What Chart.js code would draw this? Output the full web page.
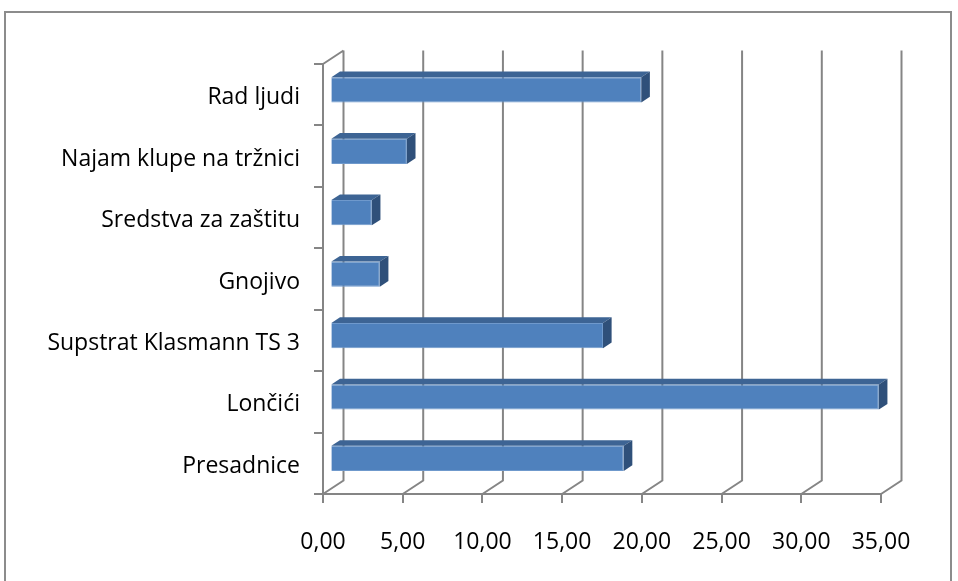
<!DOCTYPE html>
<html>
<head>
<meta charset="utf-8">
<script src="https://cdn.jsdelivr.net/npm/chart.js@4.4.1/dist/chart.umd.min.js"></script>
<style>
  html, body { margin: 0; padding: 0; background: #fff; }
  #wrap { width: 958px; height: 581px; position: relative; }
</style>
</head>
<body>
<div id="wrap"><canvas id="costChart"></canvas></div>
<script>
var categories = ['Rad ljudi', 'Najam klupe na tržnici', 'Sredstva za zaštitu', 'Gnojivo', 'Supstrat Klasmann TS 3', 'Lončići', 'Presadnice'];
var costs = [19.5, 4.8, 2.6, 3.1, 17.1, 34.4, 18.4];
var axisMin = 0, axisMax = 35, axisStep = 5;

// fake 3d: back wall offset and where the bars sit in the depth
var depthX = 20.5, depthY = -13.5;
var barShift = 0.36, barDepth = 0.42;
var lineColor = '#858585';

var frame3d = {
    id: 'frame3d',
    beforeDraw: function(chart) {
        var ctx = chart.ctx;
        ctx.save();
        ctx.strokeStyle = '#8c8c8c';
        ctx.lineWidth = 2;
        ctx.strokeRect(5, 12, 946, 600);
        ctx.restore();
    },
    beforeDatasetsDraw: function(chart) {
        var ctx = chart.ctx, area = chart.chartArea, xs = chart.scales.x;
        ctx.save();
        ctx.strokeStyle = lineColor;
        ctx.lineWidth = 2;
        ctx.beginPath();
        xs.ticks.forEach(function(t) {
            var xf = xs.getPixelForValue(t.value);
            ctx.moveTo(xf, area.bottom);
            ctx.lineTo(xf + depthX, area.bottom + depthY);
            ctx.lineTo(xf + depthX, area.top + depthY);
        });
        ctx.moveTo(area.left, area.top);
        ctx.lineTo(area.left + depthX, area.top + depthY);
        ctx.stroke();
        ctx.restore();

        ctx.save();
        ctx.translate(depthX * barShift, depthY * barShift);
    },
    afterDatasetsDraw: function(chart) {
        var ctx = chart.ctx;
        var dx = depthX * barDepth, dy = depthY * barDepth;
        chart.getDatasetMeta(0).data.forEach(function(el) {
            var top = el.y - el.height / 2, bottom = el.y + el.height / 2;
            ctx.fillStyle = '#3d6494';
            ctx.beginPath();
            ctx.moveTo(el.base, top);
            ctx.lineTo(el.x, top);
            ctx.lineTo(el.x + dx, top + dy);
            ctx.lineTo(el.base + dx, top + dy);
            ctx.closePath();
            ctx.fill();
            ctx.fillStyle = '#2f507a';
            ctx.beginPath();
            ctx.moveTo(el.x, top);
            ctx.lineTo(el.x + dx, top + dy);
            ctx.lineTo(el.x + dx, bottom + dy);
            ctx.lineTo(el.x, bottom);
            ctx.closePath();
            ctx.fill();
        });
        ctx.restore();
    }
};

var ctx = document.getElementById('costChart').getContext('2d');
var costChart = new Chart(ctx, {
    type: 'bar',
    data: {
        labels: categories,
        datasets: [{
            data: costs,
            backgroundColor: '#4f81bd',
            borderColor: '#6f99cc',
            borderWidth: 1,
            barPercentage: 0.41,
            categoryPercentage: 1
        }]
    },
    options: {
        indexAxis: 'y',
        responsive: true,
        maintainAspectRatio: false,
        animation: false,
        layout: { padding: { left: 0, top: 64, right: 77, bottom: 0 } },
        plugins: {
            legend: { display: false },
            tooltip: { enabled: false }
        },
        scales: {
            x: {
                min: axisMin,
                max: axisMax,
                afterFit: function(scale) { scale.height = 87; },
                grid: { drawOnChartArea: false, tickLength: 9, color: lineColor, lineWidth: 2 },
                border: { display: true, color: lineColor, width: 2 },
                ticks: {
                    stepSize: axisStep,
                    padding: 26,
                    color: '#000',
                    font: { family: "'Open Sans', sans-serif", size: 23 },
                    callback: function(v) { return v.toFixed(2).replace('.', ','); }
                }
            },
            y: {
                afterFit: function(scale) { scale.width = 323; },
                grid: { drawOnChartArea: false, offset: true, tickLength: 9, color: lineColor, lineWidth: 2 },
                border: { display: true, color: lineColor, width: 2 },
                ticks: {
                    padding: 14,
                    labelOffset: 3,
                    color: '#000',
                    font: { family: "'Open Sans', sans-serif", size: 23 }
                }
            }
        }
    },
    plugins: [frame3d]
});
</script>
</body>
</html>
